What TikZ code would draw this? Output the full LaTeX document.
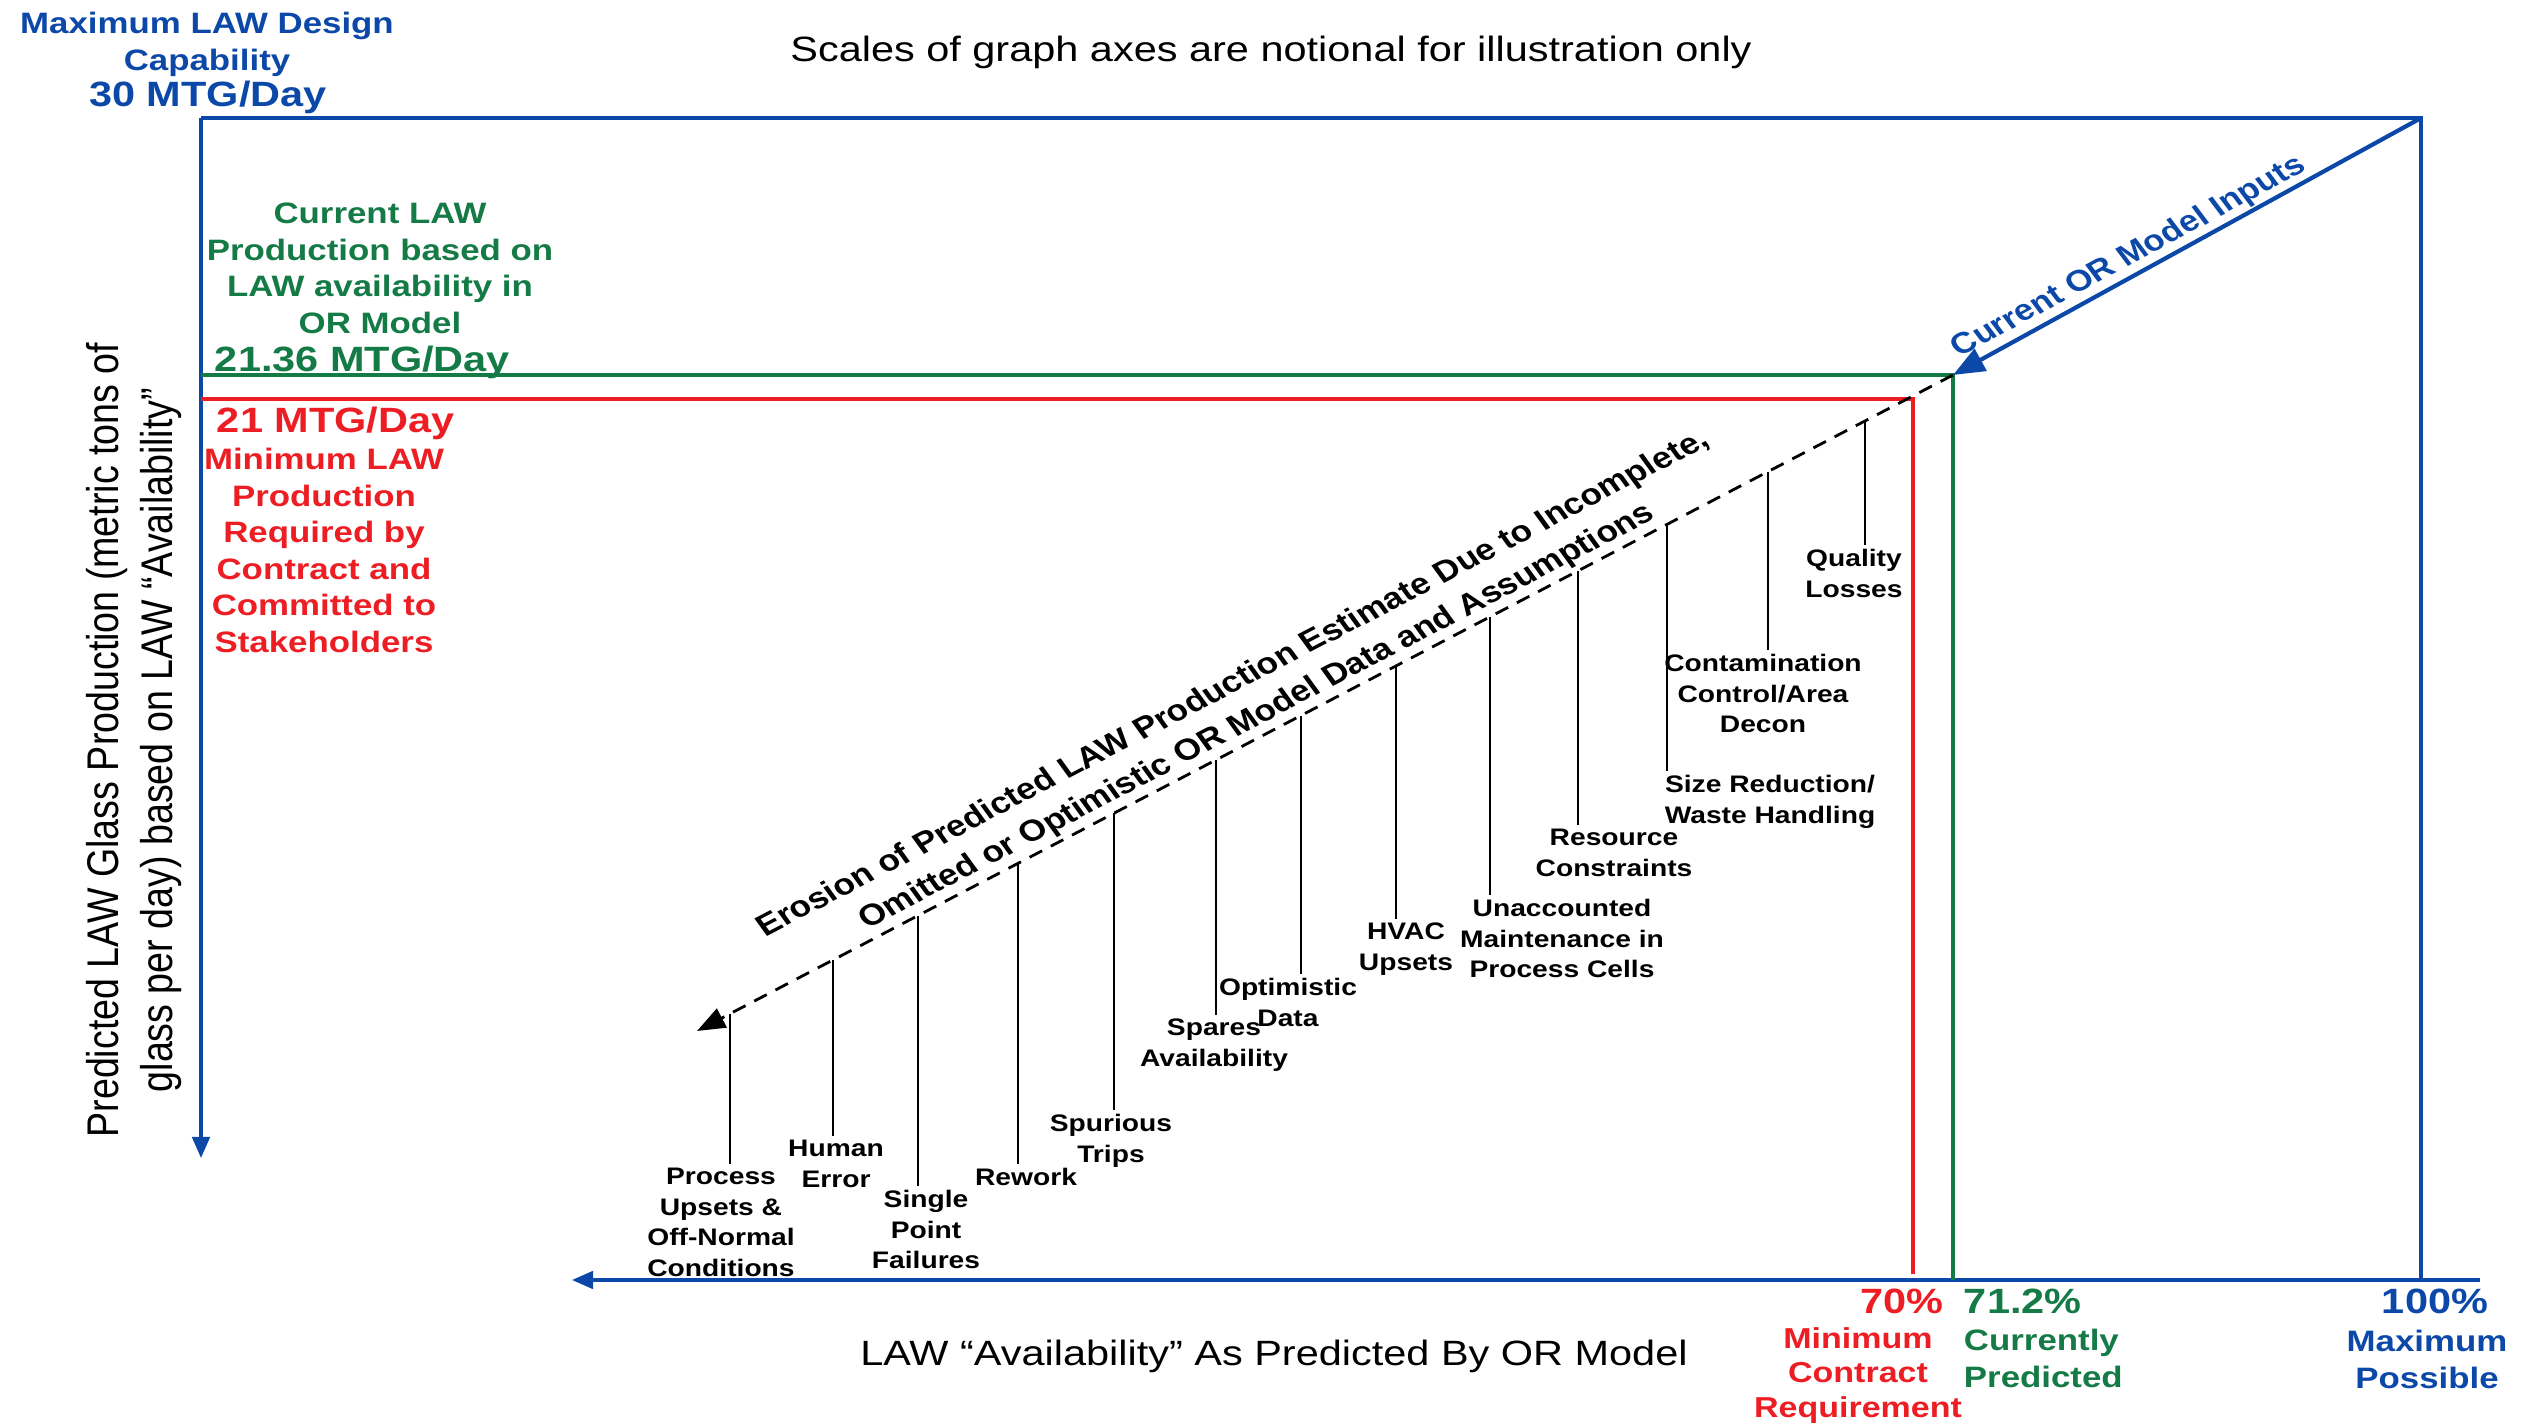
\documentclass[tikz,border=0pt]{standalone}
\usepackage{fontspec}
\setmainfont{Liberation Sans}
\usepackage{tikz}
\usetikzlibrary{positioning, arrows.meta, calc}
\definecolor{capblue}{RGB}{12,72,168}
\definecolor{predgreen}{RGB}{20,122,70}
\definecolor{minred}{RGB}{236,30,36}

\begin{document}
\begin{tikzpicture}[
        x=0.1mm, y=-0.1mm,
        every node/.style={xscale=1.18},
        plaintext/.style={font=\fontsize{10}{12.8}\selectfont, align=center, inner sep=1pt},
        notetext/.style={font=\fontsize{8.4}{10.4}\selectfont\bfseries, align=center, inner sep=1pt},
        valtext/.style={font=\fontsize{10}{12}\selectfont\bfseries, inner sep=1pt},
        causetext/.style={font=\fontsize{6.8}{8.7}\selectfont\bfseries, align=center, inner sep=1pt, anchor=north},
        axisline/.style={draw=capblue, line width=0.9pt},
        limitline/.style={line width=1.2pt},
        tickline/.style={line width=0.8pt},
        arr/.style={-{Triangle[length=6pt, width=5pt]}}
    ]
    \path[use as bounding box] (0,0) rectangle (2525,1425);

    % Title and axis labels
    \node[plaintext] (title) at (1271,52) {Scales of graph axes are notional for illustration only};
    \node[plaintext] (xlabel) at (1274,1356) {LAW “Availability” As Predicted By OR Model};
    \node[plaintext, font=\fontsize{10.7}{12.8}\selectfont, rotate=90] (ylabel) at (134,740) {Predicted LAW Glass Production (metric tons of\\glass per day) based on LAW “Availability”};

    % Axes and design capability frame
    \coordinate (tl) at (201,118);
    \coordinate (tr) at (2421,118);
    \coordinate (br) at (2421,1280);
    \coordinate (ytip) at (201,1158);
    \coordinate (xrt) at (2480,1280);
    \coordinate (xtip) at (572,1280);
    \draw[axisline, arr] (tl) -- (ytip);
    \draw[axisline] (tl) -- (tr) -- (br);
    \draw[axisline, arr] (xrt) -- (xtip);

    % Current prediction and contract minimum
    \coordinate (gy) at (201,375);
    \coordinate (gc) at (1953,375);
    \coordinate (gx) at (1953,1280);
    \coordinate (ry) at (201,399);
    \coordinate (rc) at (1913,399);
    \coordinate (rx) at (1913,1274);
    \draw[limitline, predgreen] (gy) -- (gc) -- (gx);
    \draw[limitline, minred] (ry) -- (rc) -- (rx);

    % Model inputs
    \draw[capblue, line width=1.2pt, -{Triangle[length=9pt, width=7pt]}] (tr) -- (gc);
    \node[notetext, capblue, rotate=32.5, anchor=south] (inputs) at ($(tr)!0.6!(gc)$) {Current OR Model Inputs};

    % Erosion line
    \coordinate (erB) at (697,1031);
    \draw[line width=0.8pt, dash pattern=on 4pt off 2.8pt, -{Triangle[length=8pt, width=6pt]}] (gc) -- (erB);
    \node[font=\fontsize{8.5}{11}\selectfont\bfseries, align=center, rotate=31.6, anchor=south, inner sep=1pt] (erosion) at ($(gc)!0.545!(erB)$) {Erosion of Predicted LAW Production Estimate Due to Incomplete,\\Omitted or Optimistic OR Model Data and Assumptions};

    % Left side values
    \node[notetext, capblue, anchor=north] (captxt) at (207,8) {Maximum LAW Design\\Capability};
    \node[valtext, capblue] (capval) at (208,97) {30 MTG/Day};
    \node[notetext, predgreen, anchor=north] (grntxt) at (380,199) {Current LAW\\Production based on\\LAW availability in\\OR Model};
    \node[valtext, predgreen, anchor=west] (grnval) at (210,362) {21.36 MTG/Day};
    \node[valtext, minred, anchor=west] (redval) at (212,423) {21 MTG/Day};
    \node[notetext, minred, anchor=north] (redtxt) at (324,444) {Minimum LAW\\Production\\Required by\\Contract and\\Committed to\\Stakeholders};

    % Bottom values
    \node[valtext, minred, anchor=east] (pct70) at (1948,1301) {70\%};
    \node[notetext, minred, anchor=north, font=\fontsize{8.2}{9.9}\selectfont\bfseries] (mincon) at (1858,1323) {Minimum\\Contract\\Requirement};
    \node[valtext, predgreen, anchor=west] (pct71) at (1959,1301) {71.2\%};
    \node[notetext, predgreen, anchor=north west, align=left] (curpred) at (1959,1325) {Currently\\Predicted};
    \node[valtext, capblue] (pct100) at (2435,1301) {100\%};
    \node[notetext, capblue, anchor=north] (maxpos) at (2427,1326) {Maximum\\Possible};

    % Causes
    \node[causetext] (proc) at (721,1164) {Process\\Upsets \&\\Off-Normal\\Conditions};
    \node[causetext] (human) at (836,1136) {Human\\Error};
    \node[causetext] (single) at (926,1186) {Single\\Point\\Failures};
    \node[causetext] (rework) at (1026,1164) {Rework};
    \node[causetext] (spur) at (1111,1110) {Spurious\\Trips};
    \node[causetext] (spares) at (1214,1015) {Spares\\Availability};
    \node[causetext] (optim) at (1288,974) {Optimistic\\Data};
    \node[causetext] (hvac) at (1406,919) {HVAC\\Upsets};
    \node[causetext] (unacc) at (1562,895) {Unaccounted\\Maintenance in\\Process Cells};
    \node[causetext] (resrc) at (1614,825) {Resource\\Constraints};
    \node[causetext] (sizered) at (1770,771) {Size Reduction/\\Waste Handling};
    \node[causetext] (contam) at (1763,650) {Contamination\\Control/Area\\Decon};
    \node[causetext] (quality) at (1854,545) {Quality\\Losses};

    % Ticks from the erosion line
    \coordinate (q1) at (730,1014);
    \coordinate (q2) at (833,960);
    \coordinate (q3) at (918,916);
    \coordinate (q4) at (1018,863);
    \coordinate (q5) at (1114,813);
    \coordinate (q6) at (1216,760);
    \coordinate (q7) at (1301,716);
    \coordinate (q8) at (1396,666);
    \coordinate (q9) at (1490,617);
    \coordinate (q10) at (1578,571);
    \coordinate (q11) at (1667,524);
    \coordinate (q12) at (1768,472);
    \coordinate (q13) at (1865,421);
    \draw[tickline] (q1) -- (q1 |- proc.north);
    \draw[tickline] (q2) -- (q2 |- human.north);
    \draw[tickline] (q3) -- (q3 |- single.north);
    \draw[tickline] (q4) -- (q4 |- rework.north);
    \draw[tickline] (q5) -- (q5 |- spur.north);
    \draw[tickline] (q6) -- (q6 |- spares.north);
    \draw[tickline] (q7) -- (q7 |- optim.north);
    \draw[tickline] (q8) -- (q8 |- hvac.north);
    \draw[tickline] (q9) -- (q9 |- unacc.north);
    \draw[tickline] (q10) -- (q10 |- resrc.north);
    \draw[tickline] (q11) -- (q11 |- sizered.north);
    \draw[tickline] (q12) -- (q12 |- contam.north);
    \draw[tickline] (q13) -- (q13 |- quality.north);

\end{tikzpicture}
\end{document}
